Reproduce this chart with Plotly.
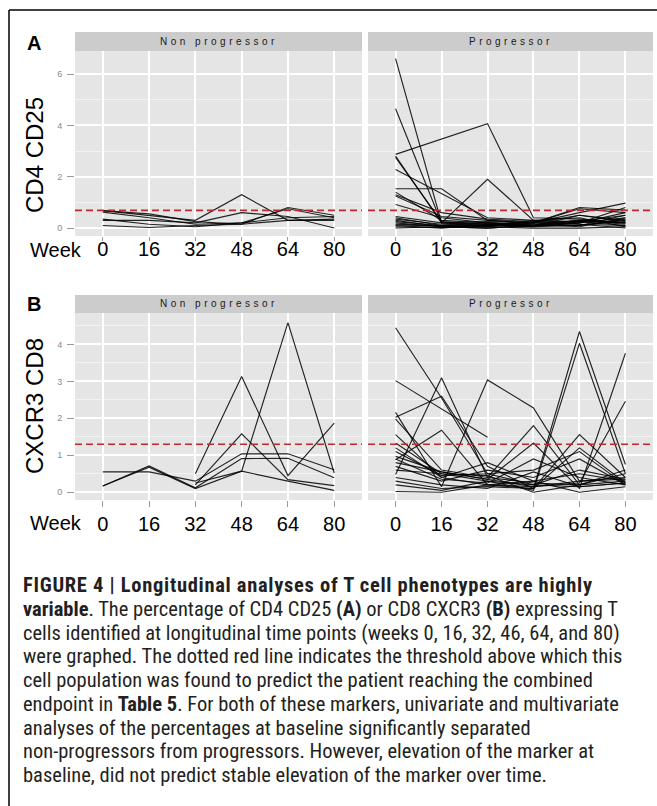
import plotly.graph_objects as go

W, H = 657, 806

weeks = ["0", "16", "32", "48", "64", "80"]
groups = ["Non progressor", "Progressor"]
markers = ["CD4 CD25", "CXCR3 CD8"]
panel_letters = ["A", "B"]
thresholds = [0.69, 1.30]

# Panel A: CD4 CD25
cd25_nonprog = [
    [0.68, 0.50, 0.30, 1.30, 0.30, 0.35],
    [0.68, 0.55, 0.25, 0.15, 0.80, 0.50],
    [0.35, 0.15, 0.05, 0.20, 0.75, 0.40],
    [0.30, 0.30, 0.20, 0.60, 0.45, 0.00],
    [0.10, 0.02, 0.10, 0.15, 0.30, 0.30],
    [0.62, 0.40, 0.15, 0.20, 0.40, 0.45],
]
cd25_prog = [
    [6.60, 0.20, 0.10, 0.15, 0.30, 0.20],
    [4.65, 0.20, 0.15, 0.10, 0.20, 0.40],
    [2.87, None, 4.07, 0.40, 0.35, 0.20],
    [2.80, 0.20, 0.25, 0.20, 0.10, 0.50],
    [2.75, 0.25, 0.15, 0.20, 0.50, 0.30],
    [2.28, None, 0.40, 0.30, 0.20, 0.60],
    [1.53, 1.53, 0.30, 0.20, 0.80, 0.70],
    [1.40, 0.30, 0.20, 0.10, 0.30, 0.20],
    [1.30, 0.60, 0.35, 0.25, 0.15, 0.10],
    [1.25, 0.45, 0.30, 0.20, 0.60, 0.97],
    [0.92, 0.40, 0.20, 0.10, 0.10, 0.30],
    [0.45, 0.20, 1.90, 0.30, 0.25, 0.10],
    [0.40, 0.10, 0.05, 0.20, 0.75, 0.60],
    [0.35, 0.15, 0.10, 0.30, 0.40, 0.05],
    [0.30, 0.05, 0.10, 0.05, 0.20, 0.80],
    [0.25, 0.10, 0.20, 0.15, 0.05, 0.40],
    [0.20, 0.05, 0.00, 0.10, 0.30, 0.15],
    [0.15, 0.10, 0.05, 0.25, 0.15, 0.00],
    [0.10, 0.00, 0.15, 0.05, 0.10, 0.35],
    [0.05, 0.02, 0.05, 0.00, 0.00, 0.05],
    [0.00, 0.05, 0.00, 0.10, 0.25, 0.50],
    [0.12, 0.08, 0.12, 0.08, 0.50, 0.25],
]

# Panel B: CXCR3 CD8
cxcr3_nonprog = [
    [0.55, 0.55, 0.30, 1.04, 1.04, 0.61],
    [0.17, 0.71, 0.12, 0.91, 0.92, 0.39],
    [0.17, 0.68, 0.10, 0.57, 0.30, 0.05],
    [None, None, 0.50, 3.13, 0.45, 1.87],
    [None, None, 0.25, 0.57, 4.59, 0.52],
    [None, None, 0.20, 1.58, 0.34, 0.18],
]
cxcr3_prog = [
    [4.45, 2.55, 0.50, 0.20, 0.15, 0.25],
    [3.02, None, 1.49, None, None, None],
    [0.48, 3.10, 0.40, 0.25, 0.20, 0.30],
    [2.16, 0.15, 3.04, 2.28, 0.30, 0.35],
    [2.03, 2.60, 0.70, 0.10, 1.56, 0.40],
    [1.98, 0.60, 0.40, 1.80, 0.20, 0.60],
    [1.56, 0.40, 0.20, 0.10, 4.35, 0.75],
    [1.33, 0.50, 0.30, 0.05, 4.03, 0.50],
    [0.97, 0.55, 0.35, 1.33, 0.10, 3.76],
    [0.88, 1.68, 0.20, 0.15, 0.25, 2.46],
    [0.70, 0.30, 0.60, 0.40, 0.90, 0.20],
    [0.30, 0.10, 0.15, 0.10, 1.20, 0.25],
    [0.02, 0.00, 0.20, 0.30, 0.00, 0.15],
    [1.20, 0.40, 0.80, 0.30, 0.50, 0.30],
    [1.10, 0.45, 0.50, 0.60, 1.10, 0.20],
    [0.90, 0.35, 0.25, 0.90, 0.40, 0.20],
    [0.60, 0.50, 0.45, 0.00, 0.20, 0.50],
    [0.40, 0.20, 0.10, 0.55, 0.15, 0.25],
    [0.20, 0.05, 0.30, 0.20, 0.60, 0.35],
    [0.80, 0.55, 0.35, 0.15, 0.30, 0.40],
]

y_ticks = [[0, 2, 4, 6], [0, 1, 2, 3, 4]]
y_minor = [1, 0.5]
y_ranges = [[-0.31, 6.9], [-0.21, 4.85]]

caption_lines = [
    '<b><span style="letter-spacing:0.7px">FIGURE 4 | Longitudinal analyses of T cell phenotypes are highly</span></b>',
    "<b>variable</b>. The percentage of CD4 CD25 <b>(A)</b> or CD8 CXCR3 <b>(B)</b> expressing T",
    "cells identified at longitudinal time points (weeks 0, 16, 32, 46, 64, and 80)",
    "were graphed. The dotted red line indicates the threshold above which this",
    "cell population was found to predict the patient reaching the combined",
    "endpoint in <b>Table 5</b>. For both of these markers, univariate and multivariate",
    "analyses of the percentages at baseline significantly separated",
    "non-progressors from progressors. However, elevation of the marker at",
    "baseline, did not predict stable elevation of the marker over time.",
]

series = [[cd25_nonprog, cd25_prog], [cxcr3_nonprog, cxcr3_prog]]

# layout geometry (pixels)
col_px = [(75, 362), (368, 653)]
row_px = [(51, 236), (313, 500)]
strip_h = [19, 18]
title_cy = [155, 406]
letter_cy = [43, 304]
week_cy = [250, 523]
x_ticklen = [4, 6]
x_standoff = [-9, 0]

fig = go.Figure()
AX = "Liberation Sans, Arial, sans-serif"

for r in range(2):
    for c in range(2):
        k = r * 2 + c + 1
        xs = "x" if k == 1 else f"x{k}"
        ys = "y" if k == 1 else f"y{k}"
        for row in series[r][c]:
            fig.add_trace(go.Scatter(
                x=weeks, y=row, xaxis=xs, yaxis=ys, mode="lines",
                line=dict(color="rgba(0,0,0,0.85)", width=1.15),
                connectgaps=True, showlegend=False, hoverinfo="skip"))
        xd = [col_px[c][0] / W, col_px[c][1] / W]
        yd = [1 - row_px[r][1] / H, 1 - row_px[r][0] / H]
        fig.layout[f"xaxis{'' if k == 1 else k}"] = dict(
            domain=xd, anchor=ys, type="category", categoryorder="array",
            categoryarray=weeks, range=[-0.6, 5.6], showgrid=True,
            gridcolor="white", gridwidth=1.6, ticks="outside", ticklen=x_ticklen[r],
            tickcolor="#9a9a9a", ticklabelstandoff=x_standoff[r],
            tickfont=dict(size=20, color="black", family=AX),
            zeroline=False, showline=False, fixedrange=True, automargin=False)
        fig.layout[f"yaxis{'' if k == 1 else k}"] = dict(
            domain=yd, anchor=xs, range=y_ranges[r], tickmode="array",
            tickvals=y_ticks[r], showgrid=True, gridcolor="white", gridwidth=1.6,
            ticks="outside" if c == 0 else "", ticklen=7, tickcolor="#9a9a9a",
            showticklabels=(c == 0), ticklabelstandoff=3,
            tickfont=dict(size=9, color="#8a8a8a", family=AX),
            minor=dict(dtick=y_minor[r], tick0=0, showgrid=True,
                       gridcolor="#F2F2F2", gridwidth=0.8, ticks=""),
            zeroline=False, showline=False, fixedrange=True, automargin=False)
        # threshold line
        fig.add_shape(type="line", xref=f"{xs} domain", yref=ys, x0=0, x1=1,
                      y0=thresholds[r], y1=thresholds[r],
                      line=dict(color="#c0282d", width=1.6, dash="7px,4px"))
        # strip
        ph = row_px[r][1] - row_px[r][0]
        fig.add_shape(type="rect", xref=f"{xs} domain", yref=f"{ys} domain",
                      x0=0, x1=1, y0=1, y1=1 + strip_h[r] / ph,
                      fillcolor="#cccccc", line=dict(width=0), layer="below")
        fig.add_annotation(text=f'<span style="letter-spacing:3.5px">{groups[c]}</span>',
                           xref=f"{xs} domain", yref=f"{ys} domain",
                           x=0.5, y=1 + strip_h[r] / 2 / ph, showarrow=False,
                           xanchor="center", yanchor="middle",
                           font=dict(size=10, color="#1a1a1a", family=AX))
    # y titles, panel letters, Week label
    fig.add_annotation(text=markers[r], xref="paper", yref="paper", x=34 / W,
                       y=1 - title_cy[r] / H, textangle=-90, showarrow=False,
                       xanchor="center", yanchor="middle",
                       font=dict(size=24, color="black", family=AX))
    fig.add_annotation(text=f"<b>{panel_letters[r]}</b>", xref="paper", yref="paper",
                       x=34 / W, y=1 - letter_cy[r] / H, showarrow=False,
                       xanchor="center", yanchor="middle",
                       font=dict(size=20, color="black", family=AX))
    fig.add_annotation(text="Week", xref="paper", yref="paper", x=56 / W,
                       y=1 - week_cy[r] / H, showarrow=False,
                       xanchor="center", yanchor="middle",
                       font=dict(size=20, color="black", family=AX))

cap_y0, cap_dy = 585, 23.75
for i, line in enumerate(caption_lines):
    fig.add_annotation(text=line, xref="paper", yref="paper", x=21 / W,
                       y=1 - (cap_y0 + i * cap_dy) / H, xanchor="left",
                       yanchor="middle", showarrow=False, align="left",
                       font=dict(size=20.5, color="#231f20",
                                 family="Liberation Sans Narrow, Arial Narrow, Roboto Condensed, Liberation Sans"))

# frame lines (top and left)
fig.add_shape(type="line", xref="paper", yref="paper", x0=9 / W, x1=1,
              y0=1 - 10 / H, y1=1 - 10 / H, line=dict(color="black", width=1.5))
fig.add_shape(type="line", xref="paper", yref="paper", x0=9 / W, x1=9 / W,
              y0=1 - 10 / H, y1=0, line=dict(color="black", width=1.5))

fig.update_layout(width=W, height=H, autosize=False,
                  margin=dict(l=0, r=0, t=0, b=0, autoexpand=False),
                  paper_bgcolor="white", plot_bgcolor="#E5E5E5",
                  showlegend=False)

fig.write_html("out.html", config={"displayModeBar": False},
               post_script="document.body.style.margin='0';document.body.style.padding='0';")
